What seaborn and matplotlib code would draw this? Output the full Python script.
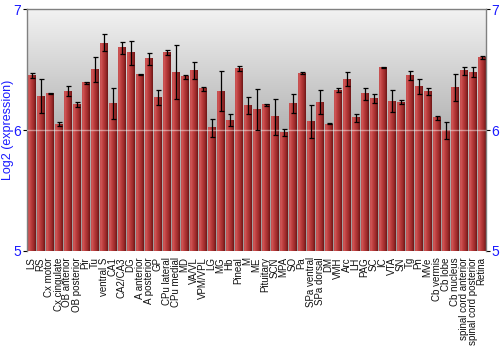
import numpy as np
import pandas as pd
import matplotlib
matplotlib.use("Agg")
import matplotlib.pyplot as plt
from matplotlib.colors import LinearSegmentedColormap
import seaborn as sns

regions = ["LS", "RS", "Cx motor", "Cx cingulate", "OB anterior", "OB posterior", "Pir", "Tu",
           "ventral S", "CA1", "CA2/CA3", "DG", "A anterior", "A posterior", "GP", "CPu lateral",
           "CPu medial", "MD", "VA/VL", "VPM/VPL", "LG", "MG", "Hb", "Pineal", "M", "ME",
           "Pituitary", "SCN", "MPA", "SO", "Pa", "SPa ventral", "SPa dorsal", "DM", "VMH", "Arc",
           "LH", "PAG", "SC", "IC", "VTA", "SN", "Tg", "Pn", "MVe", "Cb vermis", "Cb lobe",
           "Cb nucleus", "spinal cord anterior", "spinal cord posterior", "Retina"]
expression = [6.45, 6.28, 6.30, 6.05, 6.32, 6.21, 6.39, 6.50,
              6.72, 6.22, 6.68, 6.64, 6.46, 6.59, 6.27, 6.64,
              6.48, 6.44, 6.49, 6.34, 6.02, 6.32, 6.08, 6.51, 6.20, 6.17,
              6.21, 6.11, 5.98, 6.22, 6.47, 6.07, 6.23, 6.05, 6.33, 6.42,
              6.10, 6.30, 6.26, 6.52, 6.24, 6.23, 6.45, 6.36, 6.32, 6.10, 5.995,
              6.35, 6.49, 6.48, 6.60]
error = [0.02, 0.14, 0.005, 0.017, 0.04, 0.02, 0.01, 0.10,
         0.07, 0.13, 0.05, 0.10, 0.004, 0.05, 0.06, 0.02,
         0.22, 0.015, 0.07, 0.015, 0.075, 0.165, 0.05, 0.02, 0.07, 0.17,
         0.008, 0.15, 0.03, 0.08, 0.007, 0.135, 0.10, 0.004, 0.015, 0.06,
         0.03, 0.05, 0.04, 0.004, 0.09, 0.015, 0.035, 0.06, 0.03, 0.015, 0.07,
         0.11, 0.035, 0.04, 0.015]
y_ticks = [5, 6, 7]

df = pd.DataFrame({"region": regions, "expression": expression, "error": error})

sns.set_style("white")
plt.rcParams["font.family"] = ["Liberation Sans", "DejaVu Sans"]

fig = plt.figure(figsize=(5, 3.5), dpi=100)
ax = fig.add_axes([0.054, 0.283, 0.918, 0.691])

sns.barplot(data=df, x="region", y="expression", errorbar=None, width=0.88,
            color="#b83838", ax=ax, zorder=2, linewidth=0)
ax.set_ylim(5, 7)
xlim = ax.get_xlim()
ylo, yhi = 5, 7

# background gradient (light at top, darker toward bottom)
bg_cmap = LinearSegmentedColormap.from_list("bg", ["#f2f2f2", "#b4b4b4", "#9c9c9c"])
grad_v = np.linspace(0, 1, 256).reshape(-1, 1)
ax.imshow(grad_v, extent=[xlim[0], xlim[1], ylo, yhi], aspect="auto", cmap=bg_cmap,
          zorder=0, origin="upper")

# bar gradients (lighter left, darker right), limited to the visible range
bar_cmap = LinearSegmentedColormap.from_list(
    "bar", [(0.0, "#c24c4c"), (0.15, "#d05858"), (0.35, "#bf4040"), (0.7, "#a02c2c"), (1.0, "#6e1616")])
grad_h = np.linspace(0, 1, 64).reshape(1, -1)
for p in list(ax.patches):
    x0, w = p.get_x(), p.get_width()
    top = p.get_y() + p.get_height()
    ax.imshow(grad_h, extent=[x0, x0 + w, ylo, min(top, yhi)], aspect="auto",
              cmap=bar_cmap, zorder=2.5)

ax.errorbar(x=np.arange(len(regions)), y=df["expression"], yerr=df["error"],
            fmt="none", ecolor="black", elinewidth=0.9, capsize=1.8, capthick=0.9, zorder=4)

ax.axhline(6, color="white", lw=1, alpha=0.45, zorder=3)

ax.set_xlim(xlim)
ax.set_ylim(ylo, yhi)
ax.set_yticks(y_ticks)
ax.set_yticklabels([str(t) for t in y_ticks])
ax.tick_params(axis="y", left=True, right=True, labelright=True, length=3, width=0.8,
               colors="black", labelcolor="#1a1aff", labelsize=10, pad=1)
ax.tick_params(axis="x", bottom=False, labelsize=7, pad=1, rotation=90, labelcolor="#111111")
ax.set_xlabel("")
ax.set_ylabel("Log2 (expression)", color="#1a1aff", fontsize=9, labelpad=0)
for s in ax.spines.values():
    s.set_color("#808080")
    s.set_linewidth(1)
ax.spines["bottom"].set_visible(False)

fig.savefig("out.png", dpi=100)
